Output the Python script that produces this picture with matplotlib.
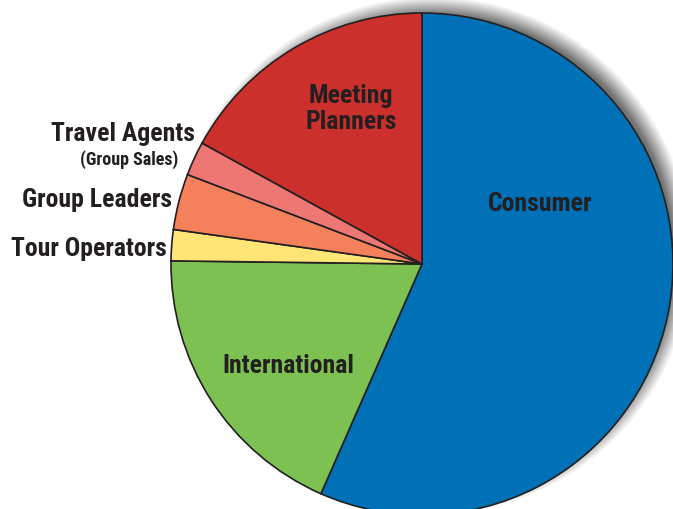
import numpy as np
import matplotlib.pyplot as plt

# pie data (share of the circle, %)
labels = ["Consumer", "International", "Tour Operators", "Group Leaders",
          "Travel Agents", "Meeting Planners"]
shares = [56.6, 18.6, 2.0, 3.6, 2.2, 17.0]
colors = ["#0071b6", "#7dc152", "#ffe476", "#f4815b", "#ee7774", "#cc302c"]

plt.rcParams["font.family"] = ["Roboto Condensed", "DejaVu Sans"]

W, H = 673, 510
fig = plt.figure(figsize=(W / 100, H / 100), dpi=100)
ax = fig.add_axes([0, 0, 1, 1])

cx, cy, r = 422, H - 265, 251

# soft drop shadow (up and to the right)
yy, xx = np.mgrid[0:H, 0:W]
d = np.hypot(xx - (cx + 10), (H - yy) - (cy + 9))
a = np.clip((r + 8 - d) / 18, 0, 1) * 0.8
shadow = np.zeros((H, W, 4))
shadow[..., :3] = 0.32
shadow[..., 3] = a
ax.imshow(shadow, extent=(0, W, 0, H), zorder=0, interpolation="bilinear")

ax.pie(shares, colors=colors, startangle=90, counterclock=False,
       center=(cx, cy), radius=r,
       wedgeprops=dict(edgecolor="#231f20", linewidth=1.2, zorder=2))

ax.set_xlim(0, W)
ax.set_ylim(0, H)
ax.set_aspect("equal")
ax.axis("off")

tc = "#231f20"
big = 18.5
ax.text(540, H - 204, "Consumer", fontsize=big, weight="bold", color=tc,
        ha="center", va="center", zorder=3)
ax.text(351, H - 109, "Meeting\nPlanners", fontsize=big, weight="bold", color=tc,
        ha="center", va="center", linespacing=1.15, zorder=3)
ax.text(288, H - 366, "International", fontsize=big, weight="bold", color=tc,
        ha="center", va="center", zorder=3)
ax.text(195, H - 134, "Travel Agents", fontsize=big, weight="bold", color=tc,
        ha="right", va="center", zorder=3)
ax.text(178, H - 160, "(Group Sales)", fontsize=13, weight="bold", color=tc,
        ha="right", va="center", zorder=3)
ax.text(172, H - 200, "Group Leaders", fontsize=big, weight="bold", color=tc,
        ha="right", va="center", zorder=3)
ax.text(167, H - 249, "Tour Operators", fontsize=big, weight="bold", color=tc,
        ha="right", va="center", zorder=3)

fig.savefig("out.png", dpi=100)
